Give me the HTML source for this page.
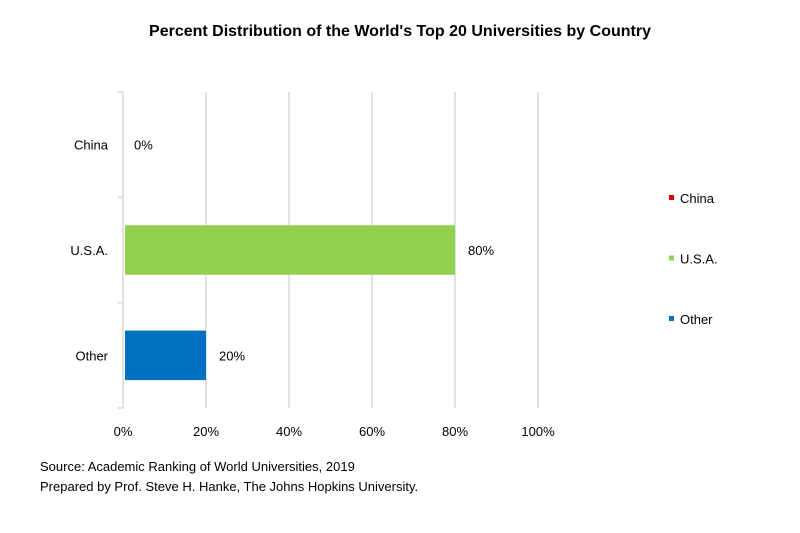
<!DOCTYPE html>
<html><head><meta charset="utf-8"><style>
body{margin:0;background:#fff;}
svg text{font-family:"Liberation Sans",sans-serif;}
</style></head><body>
<svg width="800" height="528" viewBox="0 0 800 528">
<text x="400" y="36" text-anchor="middle" font-size="16" font-weight="bold" fill="#000">Percent Distribution of the World's Top 20 Universities by Country</text>
<g id="grid"></g><g id="bars"></g><g id="axes"></g><g id="legend"></g>
<text x="40" y="471" font-size="13" fill="#000">Source: Academic Ranking of World Universities, 2019</text>
<text x="40" y="491" font-size="13" fill="#000">Prepared by Prof. Steve H. Hanke, The Johns Hopkins University.</text>
</svg>
<script>
const categories = ["China","U.S.A.","Other"];
const values = [0,80,20];
const colors = ["#e00000","#92d050","#0070c0"];
const ticks = [0,20,40,60,80,100];
const NS="http://www.w3.org/2000/svg";
const x0=123, x1=538, yTop=92, yBot=408;
const xs=v=>x0+(v/100)*(x1-x0);
const band=(yBot-yTop)/categories.length;
function mk(tag,attrs,parent,text){const e=document.createElementNS(NS,tag);for(const k in attrs)e.setAttribute(k,attrs[k]);if(text!=null)e.textContent=text;document.getElementById(parent).appendChild(e);return e;}
ticks.forEach(t=>{
 if(t>0){const g=mk('line',{x1:xs(t),x2:xs(t),y1:yTop,y2:yBot,stroke:'#d9d9d9','stroke-width':1.5},'grid');
 
 }
 const l=mk('text',{x:xs(t),y:436,'font-size':13,'text-anchor':'middle',fill:'#000'},'axes',t+'%');
 
 
});
const ax=mk('line',{x1:x0,x2:x0,y1:yTop,y2:yBot,stroke:'#d9d9d9','stroke-width':1.5},'axes');


for(let i=0;i<=categories.length;i++){const y=yTop+i*band;
 const tk=mk('line',{x1:x0-5,x2:x0,y1:y,y2:y,stroke:'#d9d9d9','stroke-width':1.5},'axes');
 
 }
categories.forEach((c,i)=>{
 const cy=yTop+band*(i+0.5);
 const lab=mk('text',{x:108,y:cy+5,'font-size':13,'text-anchor':'end',fill:'#000'},'axes',c);
 
 
 const bh=band*0.47;
 const b=mk('rect',{x:x0+2,y:cy-bh/2,width:Math.max(0,xs(values[i])-x0-2),height:bh,fill:colors[i]},'bars');
 
 
 const v=mk('text',{x:xs(values[i])+(values[i]>0?13:11),y:cy+5,'font-size':13,fill:'#000'},'bars',values[i]+'%');
 
 
 const ly=199+i*60.5;
 const m=mk('rect',{x:669,y:ly-4,width:5,height:5,fill:colors[i]},'legend');
 
 
 const lt=mk('text',{x:680,y:ly+4,'font-size':13,fill:'#000'},'legend',c);
 
 
});
</script>
</body></html>
